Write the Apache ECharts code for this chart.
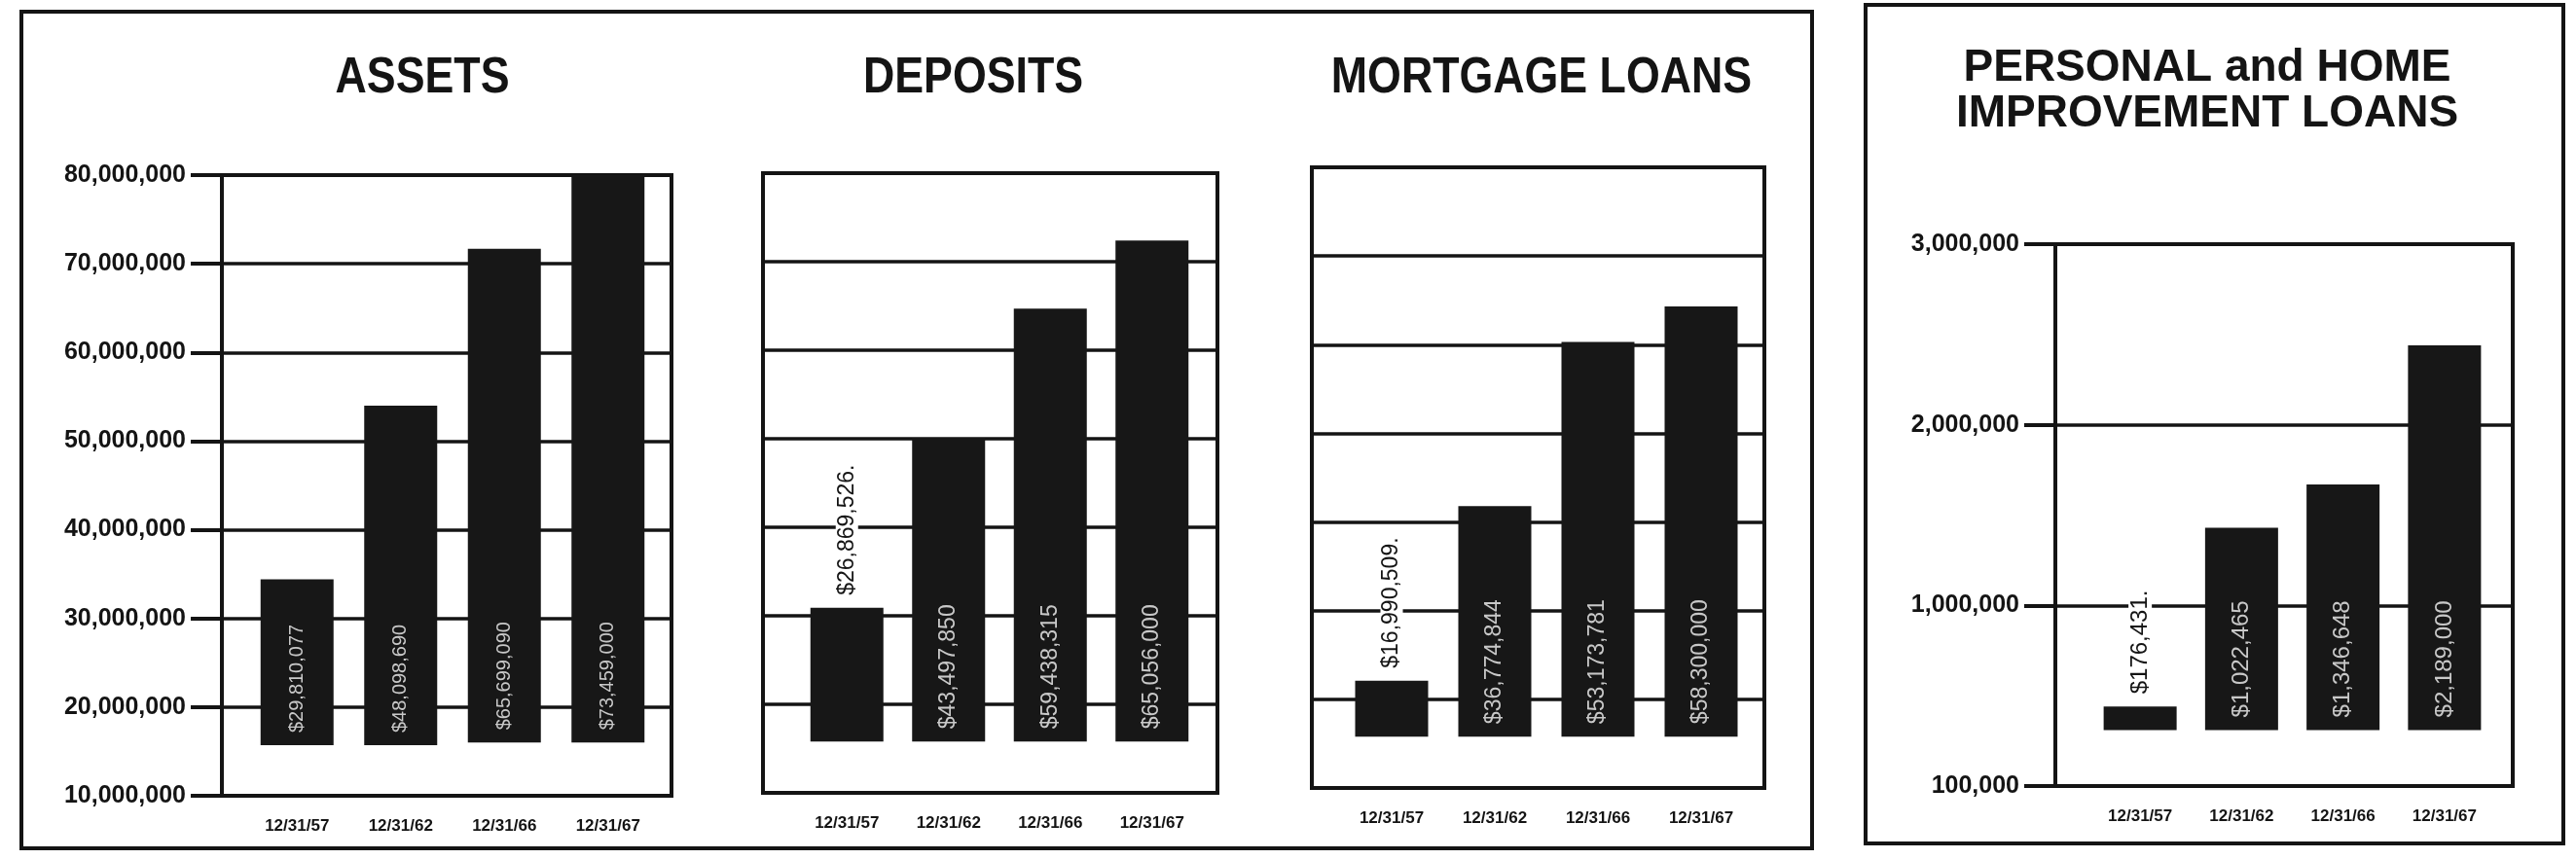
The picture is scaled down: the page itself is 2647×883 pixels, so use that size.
<!DOCTYPE html>
<html>
<head>
<meta charset="utf-8">
<script src="https://cdn.jsdelivr.net/npm/echarts@6/dist/echarts.min.js"></script>
<style>
html,body{margin:0;padding:0;background:#fff;}
#chart{width:2647px;height:883px;}
</style>
</head>
<body>
<div id="chart"></div>
<script>
// ---- data ----
const categories = ['12/31/57', '12/31/62', '12/31/66', '12/31/67'];

const assetsTop    = [34.4e6, 54.0e6, 71.7e6, 80.1e6];
const assetsBase   = [15.7e6, 15.7e6, 16.0e6, 16.0e6];
const assetsLabels = ['$29,810,077', '$48,098,690', '$65,699,090', '$73,459,000'];

const depositsTop    = [30.9e6, 50.1e6, 64.7e6, 72.4e6];
const depositsBase   = [15.8e6, 15.8e6, 15.8e6, 15.8e6];
const depositsLabels = ['$26,869,526.', '$43,497,850', '$59,438,315', '$65,056,000'];

const mortgageTop    = [22.1e6, 41.8e6, 60.3e6, 64.3e6];
const mortgageBase   = [15.8e6, 15.8e6, 15.8e6, 15.8e6];
const mortgageLabels = ['$16,990,509.', '$36,774,844', '$53,173,781', '$58,300,000'];

const personalTop    = [0.44e6, 1.43e6, 1.67e6, 2.44e6];
const personalBase   = [0.31e6, 0.31e6, 0.31e6, 0.31e6];
const personalLabels = ['$176,431.', '$1,022,465', '$1,346,648', '$2,189,000'];

const millionTicks  = ['10,000,000', '20,000,000', '30,000,000', '40,000,000', '50,000,000', '60,000,000', '70,000,000', '80,000,000'];
const personalTicks = ['100,000', '1,000,000', '2,000,000', '3,000,000'];

const titles = ['ASSETS', 'DEPOSITS', 'MORTGAGE LOANS'];
const personalTitle = ['PERSONAL and HOME', 'IMPROVEMENT LOANS'];

// ---- layout ----
const BOLD = '"Liberation Sans", Arial, sans-serif';
const REG = '"Liberation Sans", Arial, sans-serif';
const INK = '#141414';

const panels = [
  {top: assetsTop, base: assetsBase, labels: assetsLabels, outside: false, ticks: millionTicks, min: 10e6, max: 80e6, step: 10e6,
   frame: {l: 228, r: 690, t: 180, b: 818}, bars: {l: 252, r: 678}, showY: true, valFont: 20},
  {top: depositsTop, base: depositsBase, labels: depositsLabels, outside: true, ticks: millionTicks, min: 10e6, max: 80e6, step: 10e6,
   frame: {l: 784, r: 1251, t: 178, b: 815}, bars: {l: 818, r: 1236}, showY: false, valFont: 23},
  {top: mortgageTop, base: mortgageBase, labels: mortgageLabels, outside: true, ticks: millionTicks, min: 10e6, max: 80e6, step: 10e6,
   frame: {l: 1348, r: 1813, t: 172, b: 810}, bars: {l: 1377, r: 1801}, showY: false, valFont: 23},
  {top: personalTop, base: personalBase, labels: personalLabels, outside: true, ticks: personalTicks, min: 0, max: 3e6, step: 1e6,
   frame: {l: 2112, r: 2582, t: 251, b: 808}, bars: {l: 2147, r: 2564}, showY: true, valFont: 24}
];

const grid = [], xAxis = [], yAxis = [], series = [];
panels.forEach((p, i) => {
  const f = p.frame, b = p.bars;
  const gi = 2 * i, bi = 2 * i + 1;
  grid.push({left: f.l, top: f.t, width: f.r - f.l, height: f.b - f.t, show: true,
             borderColor: INK, borderWidth: 4, backgroundColor: 'transparent'});
  grid.push({left: b.l, top: f.t, width: b.r - b.l, height: f.b - f.t});
  xAxis.push({gridIndex: gi, type: 'category', data: categories, show: false});
  xAxis.push({gridIndex: bi, type: 'category', data: categories,
    axisLine: {show: false}, axisTick: {show: false},
    axisLabel: {fontSize: 17, fontWeight: 'bold', fontFamily: BOLD, color: INK, margin: 23}});
  yAxis.push({gridIndex: gi, type: 'value', min: p.min, max: p.max, interval: p.step,
    axisLine: {show: false},
    axisTick: {show: p.showY, length: 32, lineStyle: {color: INK, width: 4}},
    axisLabel: {show: p.showY, margin: 37, fontSize: 25, fontWeight: 'bold', fontFamily: BOLD, color: INK,
      formatter: v => p.ticks[Math.round((v - p.min) / p.step)]},
    splitLine: {show: true, lineStyle: {color: INK, width: 3.5}}});
  yAxis.push({gridIndex: bi, type: 'value', min: p.min, max: p.max, show: false});

  series.push({type: 'bar', xAxisIndex: bi, yAxisIndex: bi, stack: 's' + i, barWidth: 75, silent: true,
    data: p.base, itemStyle: {color: 'rgba(0,0,0,0)'}, z: 3});
  series.push({type: 'bar', xAxisIndex: bi, yAxisIndex: bi, stack: 's' + i, barWidth: 75, z: 4,
    itemStyle: {color: '#171717'},
    label: {show: true, position: 'insideBottom', rotate: 90, align: 'left', verticalAlign: 'middle',
      distance: 13, color: '#c8c8c8', fontSize: p.valFont, fontFamily: REG,
      formatter: q => p.labels[q.dataIndex]},
    data: p.top.map((t, k) => {
      const item = {value: t - p.base[k]};
      if (k === 0 && p.outside) {
        item.label = {position: 'top', distance: 10, color: INK, backgroundColor: '#fff', padding: [0, 3]};
      }
      return item;
    })});
});

function titleText(text, x, y, size, sx) {
  return {type: 'text', x: x, y: y, scaleX: sx, scaleY: 1,
    style: {text: text, font: 'bold ' + size + 'px ' + BOLD, fill: INK, align: 'center', verticalAlign: 'middle'}};
}

const graphic = [
  {type: 'rect', shape: {x: 22, y: 12, width: 1840, height: 860}, style: {fill: 'none', stroke: INK, lineWidth: 4}, z: -1},
  {type: 'rect', shape: {x: 1917, y: 5, width: 717, height: 862}, style: {fill: 'none', stroke: INK, lineWidth: 4}, z: -1},
  titleText(titles[0], 434, 81, 52, 0.86),
  titleText(titles[1], 1000, 81, 52, 0.86),
  titleText(titles[2], 1584, 81, 52, 0.86),
  titleText(personalTitle[0], 2268, 70, 46, 1),
  titleText(personalTitle[1], 2268, 117, 46, 1)
];

const chart = echarts.init(document.getElementById('chart'), null, {renderer: 'canvas'});
chart.setOption({
  backgroundColor: '#ffffff',
  animation: false,
  grid, xAxis, yAxis, series, graphic
});
</script>
</body>
</html>
